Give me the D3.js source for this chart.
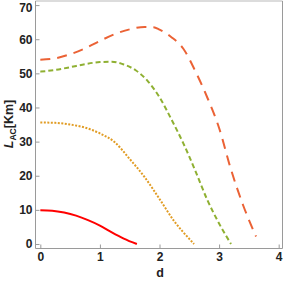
<!DOCTYPE html>
<html>
<head>
<meta charset="utf-8">
<script src="https://cdn.jsdelivr.net/npm/d3@7"></script>
<style>
  body { margin: 0; background: #fff; }
  .tick text { font-family: "Liberation Sans", Arial, sans-serif; font-weight: bold; font-size: 12px; fill: #222; }
  .axis-title { font-family: "Liberation Sans", Arial, sans-serif; font-weight: bold; font-size: 12.5px; fill: #222; }
</style>
</head>
<body>
<svg id="chart"></svg>
<script>
// curve data: d values and L_AC values
const dSolid = [0, 0.2, 0.4, 0.6, 0.8, 1.0, 1.2, 1.4, 1.62];
const lSolid = [9.9, 9.75, 9.2, 8.3, 7.0, 5.4, 3.4, 1.6, 0];

const dDotted = [0, 0.25, 0.5, 0.75, 1.0, 1.25, 1.5, 1.75, 2.0, 2.25, 2.5, 2.58];
const lDotted = [35.6, 35.5, 35.0, 34.1, 32.4, 29.8, 24.9, 19.6, 13.2, 6.6, 1.5, 0];

const dDashed = [0, 0.25, 0.5, 0.75, 1.0, 1.2, 1.4, 1.6, 1.8, 2.0, 2.2, 2.4, 2.6, 2.8, 3.0, 3.2];
const lDashed = [50.5, 51.0, 51.8, 52.7, 53.3, 53.4, 52.6, 50.9, 47.8, 43.0, 36.5, 29.5, 21.5, 13.0, 6.0, 0];

const dLong = [0, 0.25, 0.5, 0.75, 1.0, 1.25, 1.5, 1.75, 1.9, 2.0, 2.2, 2.4, 2.6, 2.8, 3.0, 3.2, 3.4, 3.62];
const lLong = [54.0, 54.4, 55.6, 57.3, 59.5, 61.5, 62.9, 63.6, 63.5, 62.8, 60.6, 57.2, 50.7, 43.0, 34.0, 21.8, 11.5, 2.2];

const xTicks = [0, 1, 2, 3, 4];
const yTicks = [0, 10, 20, 30, 40, 50, 60, 70];

const series = [
  {d: dSolid, l: lSolid, color: '#ff0000', dash: null},
  {d: dDotted, l: lDotted, color: '#e19c24', dash: '2,1.5'},
  {d: dDashed, l: lDashed, color: '#8fb032', dash: '5,3'},
  {d: dLong, l: lLong, color: '#eb6235', dash: '10,7'}
];

const width = 284, height = 281;
const frame = {left: 35.5, right: 282.5, top: 1, bottom: 248.5};

const svg = d3.select('#chart')
    .attr('width', width)
    .attr('height', height);

const xScale = d3.scaleLinear()
    .domain([-0.081, 4.064])
    .range([frame.left, frame.right]);

const yScale = d3.scaleLinear()
    .domain([-1.32, 71.2])
    .range([frame.bottom, frame.top]);

// top frame line is light, the others gray
svg.append('line')
    .attr('x1', frame.left).attr('x2', frame.right)
    .attr('y1', frame.top).attr('y2', frame.top)
    .attr('stroke', '#dcdcdc').attr('stroke-width', 2);
svg.append('line')
    .attr('x1', frame.right).attr('x2', frame.right)
    .attr('y1', frame.top).attr('y2', frame.bottom)
    .attr('stroke', '#9a9a9a').attr('stroke-width', 1);

// axes with inward ticks
const xAxisG = svg.append('g')
    .attr('transform', `translate(0,${frame.bottom})`)
    .call(d3.axisTop(xScale).tickValues(xTicks).tickSize(4).tickFormat(d3.format('d')));
// axisTop puts labels above; move them below
xAxisG.selectAll('.tick text')
    .attr('y', 4)
    .attr('dy', '0.71em')
    .attr('text-anchor', 'middle');

const yAxisG = svg.append('g')
    .attr('transform', `translate(${frame.left},0)`)
    .call(d3.axisRight(yScale).tickValues(yTicks).tickSize(4).tickFormat(d3.format('d')));
yAxisG.selectAll('.tick text')
    .attr('x', -3)
    .attr('text-anchor', 'end');
// keep the top label inside the window
yAxisG.selectAll('.tick text')
    .filter(d => d === 70)
    .attr('dy', '0.5em');

[xAxisG, yAxisG].forEach(g => {
  g.select('.domain').attr('stroke', '#9a9a9a').attr('stroke-width', 1);
  g.selectAll('.tick line').attr('stroke', '#9a9a9a');
});
xAxisG.select('.domain').attr('d', `M${frame.left},0H${frame.right}`);
yAxisG.select('.domain').attr('d', `M0,${frame.bottom}V${frame.top}`);

// curves
const line = d3.line()
    .x(p => xScale(p[0]))
    .y(p => yScale(p[1]))
    .curve(d3.curveMonotoneX);

series.forEach(s => {
  svg.append('path')
      .datum(s.d.map((d, i) => [d, s.l[i]]))
      .attr('d', line)
      .attr('fill', 'none')
      .attr('stroke', s.color)
      .attr('stroke-width', 2)
      .attr('stroke-dasharray', s.dash);
});

// axis titles
svg.append('text')
    .attr('class', 'axis-title')
    .attr('x', 160)
    .attr('y', 277)
    .attr('text-anchor', 'middle')
    .text('d');

const yTitle = svg.append('text')
    .attr('class', 'axis-title')
    .attr('transform', 'translate(13,124) rotate(-90)')
    .attr('text-anchor', 'middle');
yTitle.append('tspan').attr('font-style', 'italic').text('L');
yTitle.append('tspan').attr('font-size', '8.5px').attr('dy', 3).text('AC');
yTitle.append('tspan').attr('dy', -3).text('[Km]');
</script>
</body>
</html>
